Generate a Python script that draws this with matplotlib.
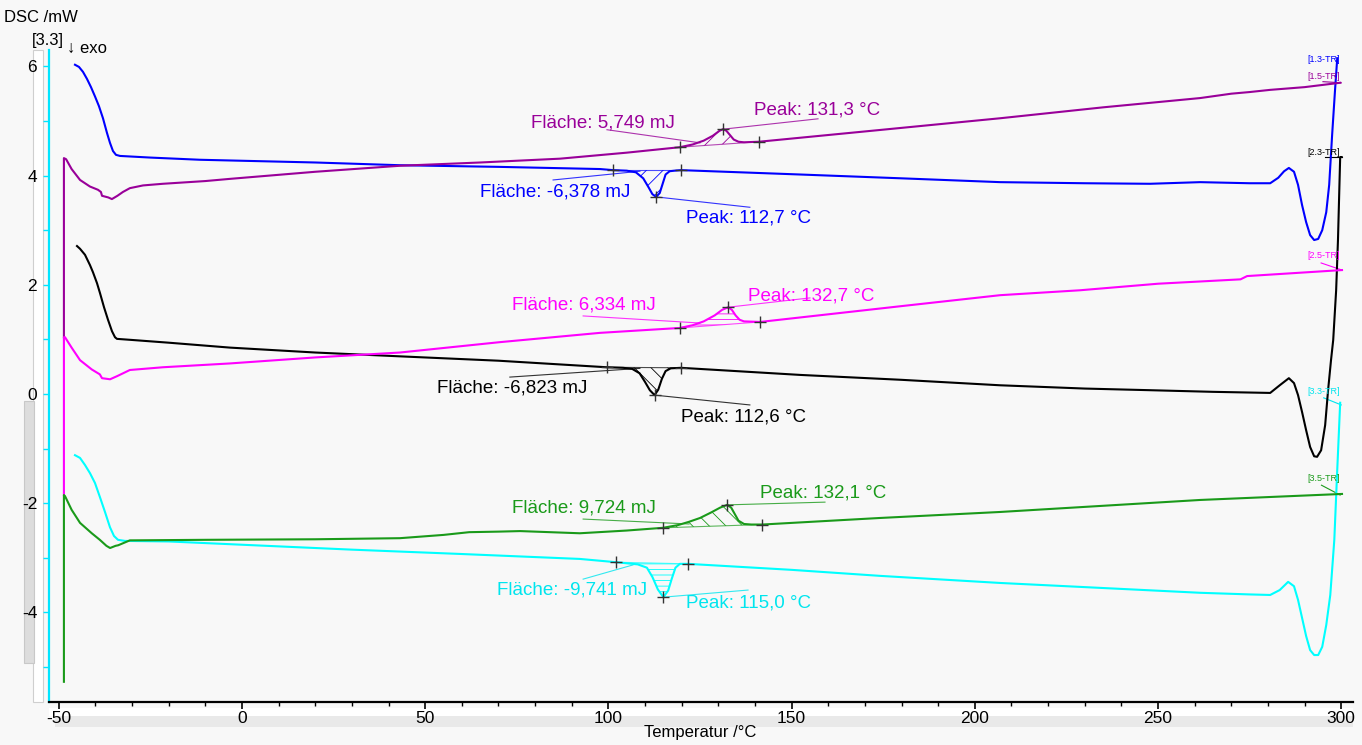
import numpy as np
import matplotlib
matplotlib.use("Agg")
import matplotlib.pyplot as plt
from matplotlib.patches import Rectangle

plt.rcParams['font.family'] = ['Liberation Sans', 'DejaVu Sans']
plt.rcParams['hatch.linewidth'] = 0.6
plt.rcParams['axes.unicode_minus'] = False

# ---------------- data (temperature °C, DSC mW) ----------------
blue_x = [-45.58, -44.49, -43.40, -42.30, -41.21, -40.12, -39.03, -37.94, -36.84, -36.03, -35.21, -34.39, -33.30,
          -25, -11.5, 20, 43.1, 70, 97.7, 101.3,
          105, 107.5, 109.5, 111.0, 112.0, 113.0, 114.0, 114.8, 115.6, 116.7, 118, 119.8,
          152.3, 180, 206.9, 230, 247.8, 261.5, 275, 280.6,
          282.8, 284.4, 285.7, 287.1, 288.2, 289.3, 290.4, 291.5, 292.6, 293.7, 294.8, 295.9, 296.7, 297.5,
          298.3, 298.9]
blue_y = [6.03, 5.99, 5.90, 5.77, 5.62, 5.45, 5.27, 5.05, 4.78, 4.60, 4.45, 4.38, 4.36,
          4.33, 4.29, 4.24, 4.19, 4.16, 4.12, 4.10,
          4.09, 4.06, 3.95, 3.78, 3.66, 3.61, 3.68, 3.85, 4.02, 4.08, 4.09, 4.10,
          4.02, 3.95, 3.88, 3.86, 3.85, 3.88, 3.86, 3.86,
          3.96, 4.08, 4.14, 4.07, 3.83, 3.46, 3.15, 2.91, 2.82, 2.84, 3.00, 3.33, 3.83, 4.74,
          5.57, 6.15]

purple_x = [-48.6, -48.6, -48.0, -46.5, -44.2, -41.5, -39.3, -38.5, -38.2, -36.5, -35.5, -34.0, -32.5, -30.6, -27,
            -21.6, -10, -3.3, 20, 43.1, 65, 86.8, 105, 119.5,
            123, 126, 128.5, 130.3, 131.3, 132.2, 133.2, 134.2, 135.5, 137, 141.1,
            168.7, 206.9, 235, 261.5, 270, 275, 280.6, 290, 299.7]
purple_y = [1.04, 4.32, 4.30, 4.12, 3.92, 3.80, 3.74, 3.70, 3.63, 3.60, 3.57, 3.63, 3.70, 3.77, 3.82,
            3.85, 3.90, 3.94, 4.07, 4.18, 4.24, 4.31, 4.42, 4.52,
            4.57, 4.64, 4.73, 4.82, 4.85, 4.82, 4.74, 4.66, 4.62, 4.61, 4.62,
            4.80, 5.05, 5.25, 5.42, 5.50, 5.53, 5.57, 5.62, 5.70]

black_x = [-45.03, -44.21, -42.85, -41.48, -40.67, -39.57, -38.76, -37.66, -36.57, -35.48, -34.66, -34.12,
           -30, -20, -3.3, 20, 43.1, 70, 99.6,
           104, 106.5, 108.5, 110, 111.3, 112.6, 113.6, 114.6, 115.6, 117, 119.8,
           152.3, 180, 206.9, 230, 247.8, 265, 280.6,
           283.2, 285.7, 287.1, 288.2, 289.3, 290.4, 291.5, 292.6, 293.4, 294.5, 295.6, 296.4, 297.2, 297.8,
           298.6, 299.1, 299.7, 300.1]
black_y = [2.71, 2.66, 2.55, 2.36, 2.23, 2.03, 1.85, 1.59, 1.36, 1.15, 1.04, 1.01,
           0.99, 0.94, 0.85, 0.76, 0.69, 0.61, 0.49,
           0.48, 0.46, 0.38, 0.22, 0.07, -0.02, 0.08, 0.28, 0.42, 0.47, 0.48,
           0.35, 0.26, 0.16, 0.10, 0.07, 0.04, 0.02,
           0.16, 0.29, 0.20, -0.02, -0.33, -0.66, -0.97, -1.14, -1.15, -1.03, -0.57, 0.07, 0.62, 0.99,
           1.90, 2.82, 4.34, 4.34]

magenta_x = [-48.6, -48.6, -48.3, -46.5, -44.2, -41.0, -38.8, -38.2, -36.0, -34.0, -30.6, -21.6, -3.3, 20, 43.1,
             70.4, 97.7, 119.5, 123, 126, 129, 131, 132.7, 133.7, 134.7, 135.8, 137, 141.4,
             180, 206.9, 228.7, 250, 272.5, 274.3, 300.2]
magenta_y = [-1.85, 1.04, 1.04, 0.85, 0.62, 0.45, 0.36, 0.29, 0.27, 0.33, 0.44, 0.49, 0.56, 0.67, 0.76,
             0.95, 1.12, 1.21, 1.26, 1.33, 1.44, 1.54, 1.59, 1.54, 1.44, 1.36, 1.33, 1.32,
             1.61, 1.81, 1.90, 2.02, 2.10, 2.16, 2.27]

green_x = [-48.6, -48.6, -48.3, -46.5, -44.2, -41.0, -38.8, -37.0, -36.0, -34.5, -33.8, -30.6, -10, 20, 43.1, 55,
           62, 70, 75.9, 92.2, 105, 114.9, 119, 122, 125, 128, 130.5, 132.4, 133.5, 134.5, 135.5, 137, 139, 142,
           174.1, 206.9, 261.5, 300.2]
green_y = [-5.27, -1.85, -1.87, -2.12, -2.36, -2.55, -2.67, -2.78, -2.82, -2.78, -2.77, -2.68, -2.67, -2.66, -2.64,
           -2.58, -2.53, -2.52, -2.51, -2.55, -2.50, -2.45, -2.40, -2.34, -2.27, -2.17, -2.08, -2.03, -2.08, -2.20,
           -2.32, -2.38, -2.39, -2.39, -2.27, -2.16, -1.94, -1.83]

cyan_x = [-45.58, -44.21, -42.85, -41.48, -40.12, -38.76, -37.39, -36.03, -34.93, -33.84, -31.93,
          -20, 0, 30, 60, 92.2, 102.1, 108, 110.5, 112, 113.5, 115.0, 116.3, 117.3, 118.3, 119.5, 121.7,
          150, 174.1, 206.9, 261.5, 275, 280.6,
          283.2, 285.5, 287.1, 288.2, 289.3, 290.4, 291.5, 292.6, 293.7, 294.8, 295.9, 297.0, 298.1, 298.9, 299.7]
cyan_y = [-1.12, -1.17, -1.30, -1.45, -1.63, -1.89, -2.16, -2.44, -2.60, -2.67, -2.69,
          -2.70, -2.76, -2.85, -2.93, -3.02, -3.08, -3.12, -3.18, -3.35, -3.58, -3.72, -3.60, -3.38, -3.18, -3.11,
          -3.11, -3.22, -3.33, -3.46, -3.64, -3.67, -3.68,
          -3.59, -3.44, -3.52, -3.77, -4.10, -4.43, -4.69, -4.78, -4.78, -4.63, -4.23, -3.68, -2.67, -1.39, -0.16]

# peak evaluations: (baseline start T, baseline end T, peak T, area text, peak text)
blue_eval = (101.3, 119.8, 113.0, "Fläche: -6,378 mJ", "Peak: 112,7 °C")
purple_eval = (119.5, 141.1, 131.3, "Fläche: 5,749 mJ", "Peak: 131,3 °C")
black_eval = (99.6, 119.8, 112.6, "Fläche: -6,823 mJ", "Peak: 112,6 °C")
magenta_eval = (119.5, 141.4, 132.7, "Fläche: 6,334 mJ", "Peak: 132,7 °C")
green_eval = (114.9, 142.0, 132.4, "Fläche: 9,724 mJ", "Peak: 132,1 °C")
cyan_eval = (102.1, 121.7, 115.0, "Fläche: -9,741 mJ", "Peak: 115,0 °C")

curve_tags = ["[1.3-TR]", "[1.5-TR]", "[2.3-TR]", "[2.5-TR]", "[3.3-TR]", "[3.5-TR]"]

# ---------------- layout ----------------
W, H = 1362, 745
fig = plt.figure(figsize=(W / 100, H / 100), dpi=100)
bg = '#f8f8f8'
fig.patch.set_facecolor(bg)
ax = fig.add_axes([49 / W, 1 - 702 / H, (1353 - 49) / W, (702 - 50) / H])
ax.set_facecolor(bg)
ax.set_xlim(-52.67, 303.2)
ax.set_ylim(-5.64, 6.30)

# decorative panels
fig.add_artist(Rectangle((33 / W, 1 - 702 / H), 10 / W, 652 / H, transform=fig.transFigure,
                         facecolor='white', edgecolor='#cfcfcf', lw=0.8, zorder=-2))
fig.add_artist(Rectangle((24 / W, 1 - 663 / H), 10 / W, 262 / H, transform=fig.transFigure,
                         facecolor='#dddddd', edgecolor='#c8c8c8', lw=0.8, zorder=-1))
fig.add_artist(Rectangle((49 / W, 1 - 716 / H), 1304 / W, 8 / H, transform=fig.transFigure,
                         facecolor='white', edgecolor='none', zorder=-2))
fig.add_artist(Rectangle((55 / W, 1 - 727 / H), 1298 / W, 11 / H, transform=fig.transFigure,
                         facecolor='#e9e9e9', edgecolor='none', zorder=-2))

for s in ('top', 'right'):
    ax.spines[s].set_visible(False)
ax.spines['left'].set_color('#00e5ff')
ax.spines['left'].set_linewidth(1.6)
ax.spines['bottom'].set_color('black')
ax.spines['bottom'].set_linewidth(1.6)

ax.set_xticks([-50, 0, 50, 100, 150, 200, 250, 300])
ax.set_xticks(np.arange(-50, 301, 10), minor=True)
ax.set_yticks([-4, -2, 0, 2, 4, 6])
ax.set_yticks([-5, -3, -1, 1, 3, 5], minor=True)
ax.tick_params(axis='x', which='major', direction='out', length=5, width=1.2, colors='black',
               labelsize=12.5, pad=1.5)
ax.tick_params(axis='x', which='minor', direction='out', length=3, width=1.0, colors='black')
ax.tick_params(axis='y', which='both', direction='out', length=4, width=1.0, color='#00e5ff',
               labelcolor='black', labelsize=12.5, pad=4.5)
ax.set_xticklabels(['-50', '0', '50', '100', '150', '200', '250', '300'])
ax.set_yticklabels(['-4', '-2', '0', '2', '4', '6'])

curves = [
    (blue_x, blue_y, '#0000ff', blue_eval, '//'),
    (purple_x, purple_y, '#990099', purple_eval, '//'),
    (black_x, black_y, '#000000', black_eval, '\\\\'),
    (magenta_x, magenta_y, '#ff00ff', magenta_eval, '---'),
    (cyan_x, cyan_y, '#00ffff', cyan_eval, '---'),
    (green_x, green_y, '#1a9a1a', green_eval, '\\\\'),
]

for cx, cy, col, ev, hatch in curves:
    ax.plot(cx, cy, color=col, lw=1.5, solid_joinstyle='round', zorder=3)
    t0, t1, tp = ev[0], ev[1], ev[2]
    xs = np.linspace(t0, t1, 200)
    yc = np.interp(xs, cx, cy)
    y0, y1 = np.interp([t0, t1], cx, cy)
    yb = y0 + (y1 - y0) * (xs - t0) / (t1 - t0)
    ax.fill_between(xs, yc, yb, facecolor='none', edgecolor=col, hatch=hatch, lw=0, zorder=2)
    ax.plot([t0, t1], [y0, y1], color=col, lw=0.8, alpha=0.7, zorder=2)
    yp = np.interp(tp, cx, cy)
    ax.plot([t0, t1, tp], [y0, y1, yp], ls='none', marker='+', color='#333333', ms=9, mew=1.0, zorder=4)

fs = 13.5
ann = [
    ('#990099', purple_eval[3], (78.9, 4.96), [(99.6, 4.84), (125.0, 4.60)]),
    ('#990099', purple_eval[4], (139.7, 5.20), [(131.3, 4.85), (157.2, 5.04)]),
    ('#0000ff', blue_eval[3], (65.0, 3.70), [(84.9, 3.92), (108.6, 4.08)]),
    ('#0000ff', blue_eval[4], (121.2, 3.22), [(113.0, 3.61), (138.6, 3.42)]),
    ('#ff00ff', magenta_eval[3], (73.7, 1.63), [(93.1, 1.43), (125.0, 1.30)]),
    ('#ff00ff', magenta_eval[4], (138.1, 1.79), [(132.7, 1.59), (155.0, 1.76)]),
    ('#000000', black_eval[3], (53.2, 0.11), [(73.1, 0.31), (108.6, 0.47)]),
    ('#000000', black_eval[4], (119.8, -0.42), [(112.6, -0.02), (138.6, -0.20)]),
    ('#1a9a1a', green_eval[3], (73.7, -2.09), [(93.1, -2.29), (122.0, -2.38)]),
    ('#1a9a1a', green_eval[4], (141.4, -1.81), [(132.4, -2.03), (159.1, -1.98)]),
    ('#00e5ee', cyan_eval[3], (69.6, -3.59), [(93.1, -3.39), (106.7, -3.13)]),
    ('#00e5ee', cyan_eval[4], (121.2, -3.83), [(115.0, -3.72), (138.1, -3.59)]),
]
for col, txt, (tx, ty), pts in ann:
    ax.text(tx, ty, txt, color=col, fontsize=fs, ha='left', va='center', zorder=5)
    ax.plot([p[0] for p in pts], [p[1] for p in pts], color=col, lw=0.8, alpha=0.8, zorder=2)

tag_info = [
    ('#0000ff', curve_tags[0], 6.12, None),
    ('#990099', curve_tags[1], 5.82, [(295.0, 5.72), (300.0, 5.70)]),
    ('#000000', curve_tags[2], 4.43, [(295.5, 4.34), (300.1, 4.34)]),
    ('#ff00ff', curve_tags[3], 2.53, [(294.5, 2.40), (300.2, 2.27)]),
    ('#00e5ee', curve_tags[4], 0.04, [(295.2, -0.07), (300.0, -0.20)]),
    ('#1a9a1a', curve_tags[5], -1.54, [(294.6, -1.67), (299.7, -1.85)]),
]
for col, txt, ty, pts in tag_info:
    ax.text(290.7, ty, txt, color=col, fontsize=6.5, ha='left', va='center', zorder=5, clip_on=False)
    if pts:
        ax.plot([p[0] for p in pts], [p[1] for p in pts], color=col, lw=0.8, zorder=2, clip_on=False)

fig.text(4 / W, 1 - 18 / H, "DSC /mW", fontsize=12, ha='left', va='center')
fig.text(32 / W, 1 - 40 / H, "[3.3]", fontsize=12, ha='left', va='center')
fig.text(67 / W, 1 - 48 / H, "↓ exo", fontsize=12, ha='left', va='center')
fig.text(700 / W, 1 - 733 / H, "Temperatur /°C", fontsize=12, ha='center', va='center')

fig.savefig("out.png", dpi=100, facecolor=fig.get_facecolor())
